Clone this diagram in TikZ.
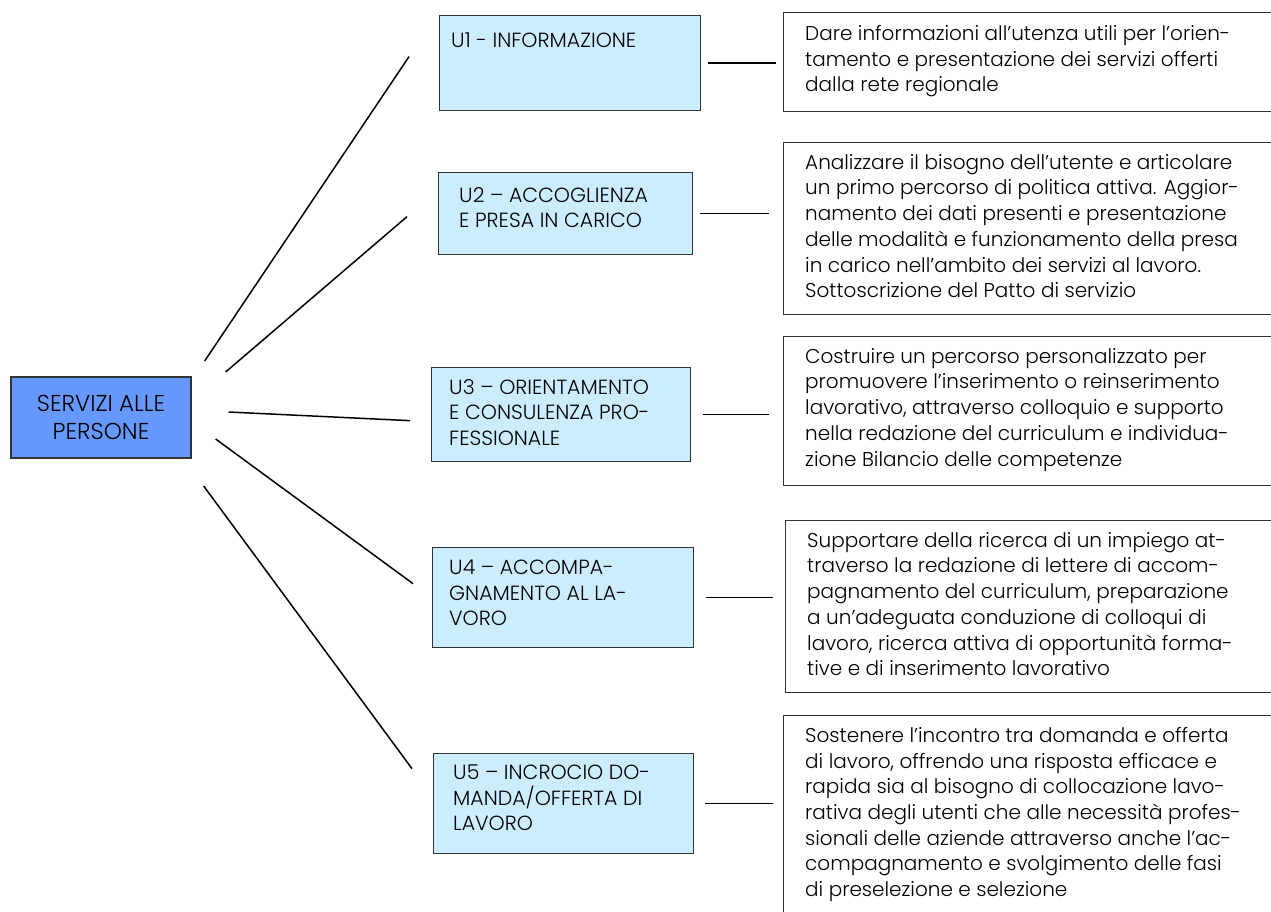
\documentclass[tikz,border=0pt]{standalone}
\usepackage{fontspec}
\setmainfont{Poppins}[UprightFont=* Light]

\definecolor{servBlu}{HTML}{6699FF}
\definecolor{unitaAzz}{HTML}{CCECFF}
\definecolor{bordoGrigio}{HTML}{333333}

\tikzset{
  servbox/.style={draw=bordoGrigio, line width=1.3pt, fill=servBlu, align=center,
    minimum width=180pt, minimum height=81pt, inner sep=0pt,
    font=\fontsize{23}{28}\selectfont},
  unitbox/.style={draw=bordoGrigio, line width=1.3pt, fill=unitaAzz, anchor=north west, inner sep=0pt},
  descbox/.style={draw=bordoGrigio, line width=1.3pt, fill=white, anchor=north west, inner sep=0pt},
  unittext/.style={anchor=north west, inner sep=0pt, align=left, font=\fontsize{20.5}{25.5}\selectfont},
  desctext/.style={anchor=north west, inner sep=0pt, align=left, font=\fontsize{20}{25.7}\selectfont},
  ramo/.style={line width=1.5pt, black},
}

\begin{document}
\begin{tikzpicture}[x=1pt, y=-1pt]
  \clip (0,0) rectangle (1271,911);

  % --- 1. nodo centrale ---
  \node[servbox] (sp) at (101,417.5) {SERVIZI ALLE\\PERSONE};

  % --- 2. unita U1 ... U5 ---
  \node[unitbox, minimum width=261pt, minimum height=95pt] (u1) at (439,15) {};
  \node[unittext] (u1t) at ([shift={(12,18)}]u1.north west) {U1 - INFORMAZIONE};

  \node[unitbox, minimum width=254pt, minimum height=82pt] (u2) at (438,172) {};
  \node[unittext] (u2t) at ([shift={(21,15)}]u2.north west) {U2 – ACCOGLIENZA\\E PRESA IN CARICO};

  \node[unitbox, minimum width=259pt, minimum height=94pt] (u3) at (431,367) {};
  \node[unittext] (u3t) at ([shift={(18,12)}]u3.north west) {U3 – ORIENTAMENTO\\E CONSULENZA PRO-\\FESSIONALE};

  \node[unitbox, minimum width=261pt, minimum height=100pt] (u4) at (432,547) {};
  \node[unittext] (u4t) at ([shift={(17,13)}]u4.north west) {U4 – ACCOMPA-\\GNAMENTO AL LA-\\VORO};

  \node[unitbox, minimum width=260pt, minimum height=100pt] (u5) at (433,753) {};
  \node[unittext] (u5t) at ([shift={(20,12)}]u5.north west) {U5 – INCROCIO DO-\\MANDA/OFFERTA DI\\LAVORO};

  % --- 3. descrizioni ---
  \node[descbox, minimum width=510pt, minimum height=99pt] (d1) at (783,12) {};
  \node[desctext] (d1t) at ([shift={(22,13)}]d1.north west)
    {Dare informazioni all’utenza utili per l’orien-\\tamento e presentazione dei servizi offerti\\dalla rete regionale};

  \node[descbox, minimum width=510pt, minimum height=172pt] (d2) at (783,142) {};
  \node[desctext] (d2t) at ([shift={(22,12)}]d2.north west)
    {Analizzare il bisogno dell’utente e articolare\\un primo percorso di politica attiva. Aggior-\\namento dei dati presenti e presentazione\\delle modalità e funzionamento della presa\\in carico nell’ambito dei servizi al lavoro.\\Sottoscrizione del Patto di servizio};

  \node[descbox, minimum width=510pt, minimum height=149pt] (d3) at (783,336) {};
  \node[desctext] (d3t) at ([shift={(22,12)}]d3.north west)
    {Costruire un percorso personalizzato per\\promuovere l’inserimento o reinserimento\\lavorativo, attraverso colloquio e supporto\\nella redazione del curriculum e individua-\\zione Bilancio delle competenze};

  \node[descbox, minimum width=510pt, minimum height=172pt] (d4) at (785,520) {};
  \node[desctext] (d4t) at ([shift={(22,12)}]d4.north west)
    {Supportare della ricerca di un impiego at-\\traverso la redazione di lettere di accom-\\pagnamento del curriculum, preparazione\\a un’adeguata conduzione di colloqui di\\lavoro, ricerca attiva di opportunità forma-\\tive e di inserimento lavorativo};

  \node[descbox, minimum width=510pt, minimum height=215pt] (d5) at (783,715) {};
  \node[desctext] (d5t) at ([shift={(22,12)}]d5.north west)
    {Sostenere l’incontro tra domanda e offerta\\di lavoro, offrendo una risposta efficace e\\rapida sia al bisogno di collocazione lavo-\\rativa degli utenti che alle necessità profes-\\sionali delle aziende attraverso anche l’ac-\\compagnamento e svolgimento delle fasi\\di preselezione e selezione};

  % --- 4. rami dal nodo centrale ---
  \draw[ramo] ([shift={(13,-56.5)}]sp.east) -- ([shift={(-30,-6.5)}]u1.west);
  \draw[ramo] ([shift={(34,-45.5)}]sp.east) -- ([shift={(-31,3)}]u2.west);
  \draw[ramo] ([shift={(37,-5.5)}]sp.east) -- ([shift={(-21,6)}]u3.west);
  \draw[ramo] ([shift={(24,21.5)}]sp.east) -- ([shift={(-19,-14)}]u4.west);
  \draw[ramo] ([shift={(12,68.5)}]sp.east) -- ([shift={(-21,-35)}]u5.west);

  % --- 5. tratti verso le descrizioni ---
  \draw[ramo, shorten <=7pt, shorten >=7pt] (u1.east) -- (u1.east -| d1.west);
  \draw[ramo, shorten <=7pt, shorten >=14pt] (u2.east) -- (u2.east -| d2.west);
  \draw[ramo, shorten <=12pt, shorten >=14pt] (u3.east) -- (u3.east -| d3.west);
  \draw[ramo, shorten <=12pt, shorten >=12pt] (u4.east) -- (u4.east -| d4.west);
  \draw[ramo, shorten <=11pt, shorten >=10pt] (u5.east) -- (u5.east -| d5.west);

\end{tikzpicture}
\end{document}
